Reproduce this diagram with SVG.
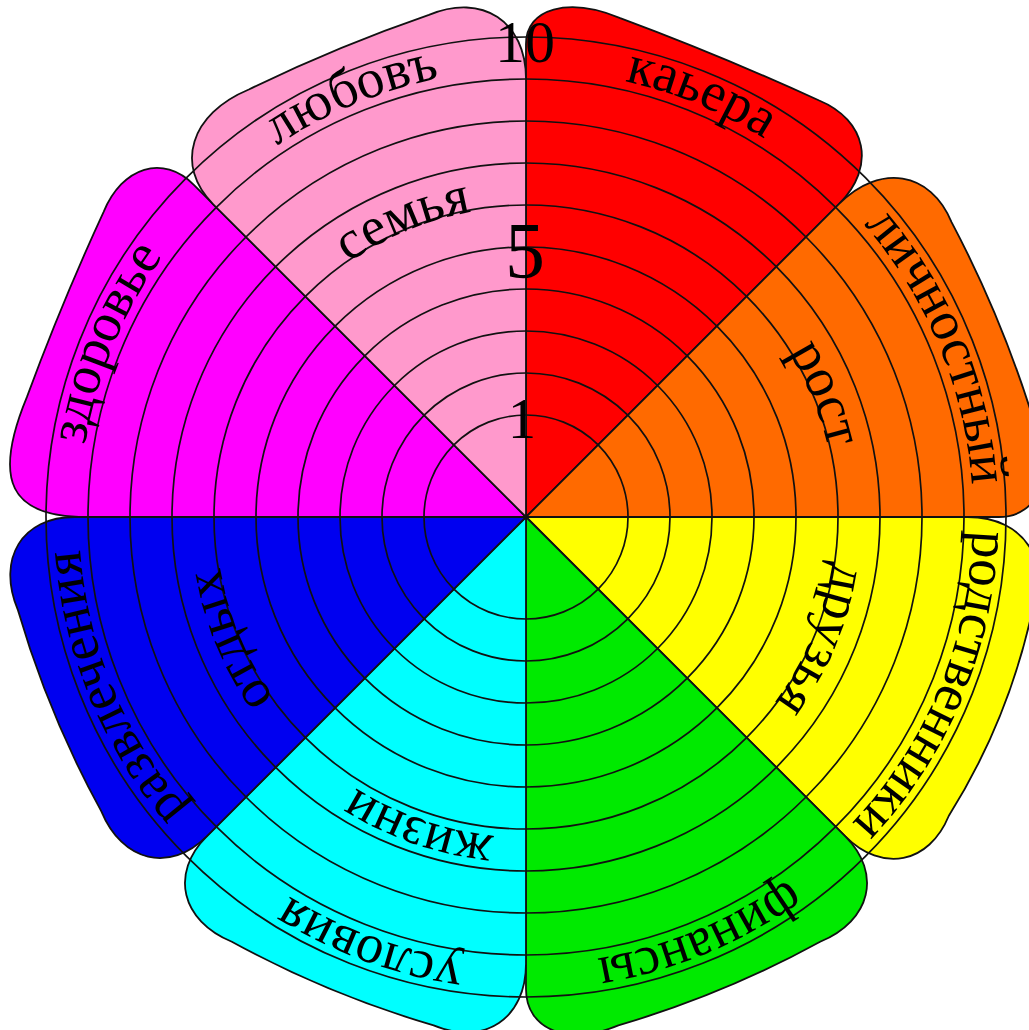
<svg xmlns="http://www.w3.org/2000/svg" width="1029" height="1030" viewBox="0 0 1029 1030">
<style>
.p{stroke:#111;stroke-width:1.8;stroke-linejoin:round}
.ring{fill:none;stroke:#111;stroke-width:1.7}
.lbl{font-family:"Liberation Serif","DejaVu Serif",serif;font-size:55px;fill:#000;text-anchor:middle}
.num{font-family:"Liberation Serif","DejaVu Serif",serif;fill:#000;text-anchor:middle}
</style>
<defs>
<path id="arcO" d="M79,517 A447,447 0 0 1 973,517"/>
<path id="arcI" d="M216,517 A310,310 0 0 1 836,517"/>
<path id="arcI2" d="M206,517 A320,320 0 0 1 846,517"/>
</defs>
<rect width="1029" height="1030" fill="#fff"/>
<g id="sectors">
<g id="red">
<path class="p" fill="#ff0000" transform="translate(526,517) rotate(22.5)" d="M0,0 L-181,-436.9 C-194.7,-470 -160,-497 -103.9,-497 Q3.5,-501 110.9,-497 C163.1,-497 189.5,-457.5 169.5,-409.2 Z"/>
</g>
<g id="orange">
<path class="p" fill="#ff6a00" transform="translate(526,517) rotate(67.5)" d="M0,0 L-169.4,-409 C-191.5,-462.3 -164.6,-506 -109.6,-506 Q-2.5,-516 104.6,-506 C162.3,-506 196.7,-474.8 180.9,-436.7 Z"/>
</g>
<g id="yellow">
<path class="p" fill="#ffff00" transform="translate(526,517) rotate(112.5)" d="M0,0 L-169,-408 C-191.1,-461.4 -159.7,-505 -99.2,-505 Q7.5,-523 114.2,-505 C166.4,-505 192.8,-465.5 172.8,-417.2 Z"/>
</g>
<g id="green">
<path class="p" fill="#00ea00" transform="translate(526,517) rotate(157.5)" d="M0,0 L-172.8,-417.2 C-192.8,-465.5 -164.2,-505 -109.2,-505 Q0,-517 109.2,-505 C164.2,-505 196.3,-473.8 180.5,-435.7 Z"/>
</g>
<g id="cyan">
<path class="p" fill="#00ffff" transform="translate(526,517) rotate(202.5)" d="M0,0 L-170.9,-412.6 C-192,-463.4 -164.2,-505 -109.2,-505 Q0,-517 109.2,-505 C164.2,-505 192.8,-465.5 172.8,-417.2 Z"/>
</g>
<g id="blue">
<path class="p" fill="#0000f0" transform="translate(526,517) rotate(247.5)" d="M0,0 L-172.8,-417.2 C-192.8,-465.5 -164.2,-505 -109.2,-505 Q0,-517 109.2,-505 C164.2,-505 192.8,-465.5 172.8,-417.2 Z"/>
</g>
<g id="magenta">
<path class="p" fill="#ff00ff" transform="translate(526,517) rotate(292.5)" d="M0,0 L-168.3,-406.3 C-197.5,-476.8 -171,-507 -80,-507 Q20,-511 120,-507 C169.5,-507 196.4,-474.2 179.8,-434 Z"/>
</g>
<g id="pink">
<path class="p" fill="#ff99cc" transform="translate(526,517) rotate(337.5)" d="M0,0 L-169.3,-408.6 C-190.3,-459.4 -155.8,-501 -92.5,-501 Q5,-507 102.5,-501 C160.3,-501 189.6,-457.8 167.7,-404.9 Z"/>
</g>
</g>
<g id="rings">
<circle class="ring" cx="526" cy="517" r="102"/>
<circle class="ring" cx="526" cy="517" r="144"/>
<circle class="ring" cx="526" cy="517" r="186"/>
<circle class="ring" cx="526" cy="517" r="228"/>
<circle class="ring" cx="526" cy="517" r="270"/>
<circle class="ring" cx="526" cy="517" r="312"/>
<circle class="ring" cx="526" cy="517" r="354"/>
<circle class="ring" cx="526" cy="517" r="396"/>
<circle class="ring" cx="526" cy="517" r="438"/>
<circle class="ring" cx="526" cy="517" r="480"/>
</g>
<g id="labels">
<g id="lbl-red" transform="rotate(22.5,526,517)"><text class="lbl"><textPath href="#arcO" startOffset="50%">каьера</textPath></text></g>
<g id="lbl-orange" transform="rotate(67.5,526,517)"><text class="lbl"><textPath href="#arcO" startOffset="50%">личностный</textPath></text><text class="lbl"><textPath href="#arcI" startOffset="50%">рост</textPath></text></g>
<g id="lbl-yellow" transform="rotate(112.5,526,517)"><text class="lbl"><textPath href="#arcO" startOffset="50%">родственники</textPath></text><text class="lbl"><textPath href="#arcI" startOffset="50%">друзья</textPath></text></g>
<g id="lbl-green" transform="rotate(157.5,526,517)"><text class="lbl"><textPath href="#arcO" startOffset="50%">финансы</textPath></text></g>
<g id="lbl-cyan" transform="rotate(200,526,517)"><text class="lbl"><textPath href="#arcO" startOffset="50%">условия</textPath></text></g>
<g id="lbl-cyan2" transform="rotate(199,526,517)"><text class="lbl"><textPath href="#arcI2" startOffset="50%">жизни</textPath></text></g>
<g id="lbl-blue" transform="rotate(247.5,526,517)"><text class="lbl"><textPath href="#arcO" startOffset="50%">развлечения</textPath></text><text class="lbl"><textPath href="#arcI" startOffset="50%">отдых</textPath></text></g>
<g id="lbl-magenta" transform="rotate(292.5,526,517)"><text class="lbl"><textPath href="#arcO" startOffset="50%">здоровье</textPath></text></g>
<g id="lbl-pink" transform="rotate(337.5,526,517)"><text class="lbl"><textPath href="#arcO" startOffset="50%">любовъ</textPath></text><text class="lbl"><textPath href="#arcI" startOffset="50%">семья</textPath></text></g>
</g>
<g id="scale">
<text class="num" x="525" y="62" font-size="60">10</text>
<text class="num" x="525" y="278" font-size="80">5</text>
<text class="num" x="522" y="438" font-size="56">1</text>
</g>
</svg>
